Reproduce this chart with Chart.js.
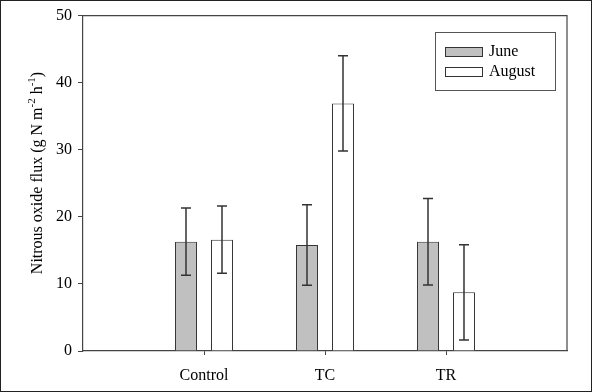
<!DOCTYPE html>
<html>
<head>
<meta charset="utf-8">
<script src="https://cdn.jsdelivr.net/npm/chart.js@4"></script>
<style>
html,body{margin:0;padding:0;background:#fff;}
#wrap{width:592px;height:392px;}
</style>
</head>
<body>
<div id="wrap"><canvas id="flux" width="592" height="392"></canvas></div>
<script>
const treatments = ["Control", "TC", "TR"];
const juneFlux = [16.3, 15.8, 16.3];
const juneErr = [5.0, 6.0, 6.45];
const augustFlux = [16.6, 36.9, 8.75];
const augustErr = [5.0, 7.1, 7.1];
const yTicks = [0, 10, 20, 30, 40, 50];

// blank slots at both ends so the groups sit at 1/4, 2/4, 3/4 of the axis
const labels = ["", ...treatments, ""];
const pad = arr => [null, ...arr, null];

const serif = "'Liberation Serif', 'Times New Roman', serif";

const errorBars = {
  id: 'errorBars',
  afterDatasetsDraw(chart) {
    const ctx = chart.ctx, y = chart.scales.y;
    chart.data.datasets.forEach((ds, i) => {
      const meta = chart.getDatasetMeta(i);
      meta.data.forEach((bar, j) => {
        const v = ds.data[j], e = ds.errors[j];
        if (v == null) return;
        const top = y.getPixelForValue(v + e), bot = y.getPixelForValue(v - e);
        ctx.save();
        ctx.strokeStyle = '#333';
        ctx.lineWidth = 1.5;
        ctx.beginPath();
        ctx.moveTo(bar.x, top); ctx.lineTo(bar.x, bot);
        ctx.moveTo(bar.x - 5, top); ctx.lineTo(bar.x + 5, top);
        ctx.moveTo(bar.x - 5, bot); ctx.lineTo(bar.x + 5, bot);
        ctx.stroke();
        ctx.restore();
      });
    });
  }
};

const frame = {
  id: 'frame',
  afterDraw(chart) {
    const ctx = chart.ctx, a = chart.chartArea;
    ctx.save();
    // plot box top and right
    ctx.strokeStyle = '#444';
    ctx.lineWidth = 1.2;
    ctx.beginPath();
    ctx.moveTo(a.left, a.top); ctx.lineTo(a.right, a.top); ctx.lineTo(a.right, a.bottom);
    ctx.stroke();
    // outer border of the picture
    ctx.strokeStyle = '#222';
    ctx.lineWidth = 1;
    ctx.strokeRect(0.5, 0.5, chart.width - 1, chart.height - 1);

    // legend box
    ctx.strokeStyle = '#555';
    ctx.strokeRect(435.5, 32.5, 120, 58);
    ctx.font = '16px ' + serif;
    ctx.textBaseline = 'middle';
    chart.data.datasets.forEach((ds, i) => {
      const yy = 47 + i * 20;
      ctx.fillStyle = ds.backgroundColor;
      ctx.fillRect(445, yy, 37, 9);
      ctx.strokeStyle = '#333';
      ctx.strokeRect(445.5, yy + 0.5, 37, 9);
      ctx.fillStyle = '#000';
      ctx.fillText(ds.label, 489, yy + 5);
    });

    // y axis title with superscripts
    ctx.textBaseline = 'alphabetic';
    ctx.translate(42, 173);
    ctx.rotate(-Math.PI / 2);
    const parts = [["Nitrous oxide flux (g N m", 0], ["-2", 1], [" h", 0], ["-1", 1], [")", 0]];
    const big = '16px ' + serif, small = '11px ' + serif;
    let w = 0;
    parts.forEach(p => { ctx.font = p[1] ? small : big; w += ctx.measureText(p[0]).width; });
    let x = -w / 2;
    ctx.textAlign = 'left';
    ctx.fillStyle = '#000';
    parts.forEach(p => {
      ctx.font = p[1] ? small : big;
      ctx.fillText(p[0], x, p[1] ? -7 : 0);
      x += ctx.measureText(p[0]).width;
    });
    ctx.restore();
  }
};

new Chart(document.getElementById("flux"), {
  type: 'bar',
  data: {
    labels: labels,
    datasets: [
      { label: 'June', data: pad(juneFlux), errors: pad(juneErr),
        backgroundColor: '#c0c0c0', borderColor: '#333', borderWidth: 1 },
      { label: 'August', data: pad(augustFlux), errors: pad(augustErr),
        backgroundColor: '#ffffff', borderColor: '#333', borderWidth: 1 }
    ]
  },
  options: {
    responsive: false,
    animation: false,
    layout: { padding: { left: 0, top: 15, right: 25, bottom: 0 } },
    datasets: { bar: { categoryPercentage: 0.595, barPercentage: 0.61 } },
    plugins: { legend: { display: false }, tooltip: { enabled: false } },
    scales: {
      x: {
        offset: false,
        grid: { offset: false, drawOnChartArea: false, tickLength: 4,
                tickColor: c => (c.index === 0 || c.index === labels.length - 1) ? 'rgba(0,0,0,0)' : '#444' },
        border: { color: '#444', width: 1.2 },
        ticks: { color: '#000', font: { family: serif, size: 16 }, padding: 11, maxRotation: 0, autoSkip: false },
        afterFit: s => { s.height = 41; }
      },
      y: {
        min: 0, max: 50,
        afterBuildTicks: s => { s.ticks = yTicks.map(v => ({ value: v })); },
        grid: { drawOnChartArea: false, tickLength: 5, color: '#444' },
        border: { color: '#444', width: 1.2 },
        ticks: { color: '#000', font: { family: serif, size: 16 }, padding: 6 },
        afterFit: s => { s.width = 83; }
      }
    }
  },
  plugins: [errorBars, frame]
});
</script>
</body>
</html>
